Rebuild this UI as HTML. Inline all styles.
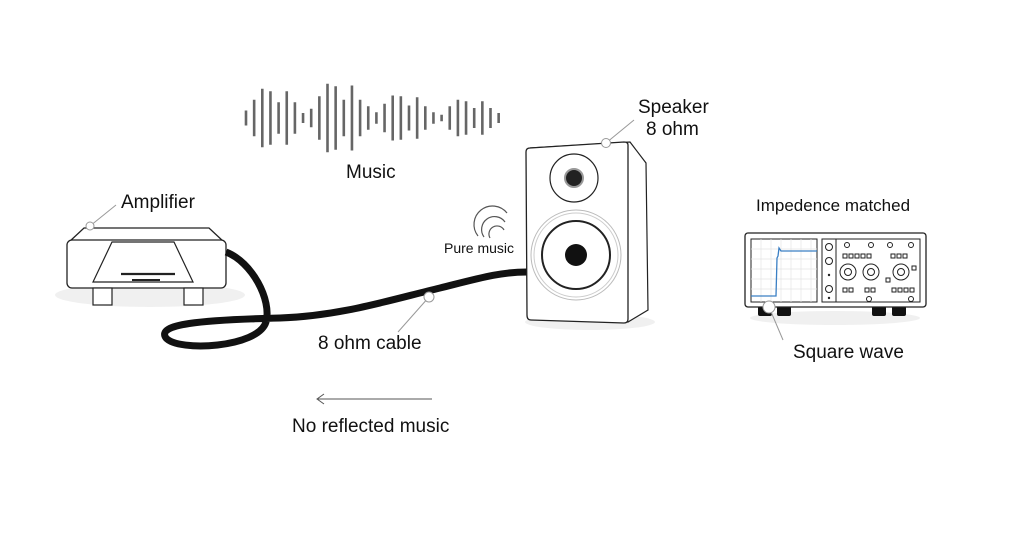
<!DOCTYPE html>
<html><head><meta charset="utf-8"><style>
html,body{margin:0;padding:0;background:#fff;}
svg{display:block}
text{font-family:"Liberation Sans",sans-serif;fill:#111}
</style></head><body>
<svg width="1024" height="546" viewBox="0 0 1024 546" xmlns="http://www.w3.org/2000/svg">
<path fill="none" stroke="#666" stroke-width="2.6" d="M246,110.5V125.5 M254.15,99.7V136.3 M262.3,88.8V147.2 M270.45,91.3V144.7 M278.6,102.2V133.8 M286.75,91.3V144.7 M294.9,102.2V133.8 M303.05,113V123 M311.2,108.8V127.2 M319.35,96.3V139.7 M327.5,83.8V152.2 M335.65,86.3V149.7 M343.8,99.7V136.3 M351.95,85.5V150.5 M360.1,99.7V136.3 M368.25,106.3V129.7 M376.4,112.2V123.8 M384.55,103.8V132.2 M392.7,95.5V140.5 M400.85,96.3V139.7 M409,105.5V130.5 M417.15,97.2V138.8 M425.3,106.3V129.7 M433.45,112.2V123.8 M441.6,114.7V121.3 M449.75,106.3V129.7 M457.9,99.7V136.3 M466.05,101.3V134.7 M474.2,108V128 M482.35,101.3V134.7 M490.5,108V128 M498.65,113V123"/>
<text x="346" y="178" font-size="19">Music</text>

<ellipse cx="150" cy="295" rx="95" ry="12" fill="#000" fill-opacity="0.06"/>
<line x1="90" y1="226" x2="116" y2="205" stroke="#999" stroke-width="1"/>
<text x="121" y="208" font-size="19">Amplifier</text>
<path d="M69,242 L84,228 L209,228 L224,242" fill="#fff" stroke="#222" stroke-width="1.3"/>
<rect x="67" y="240" width="159" height="48" rx="5" fill="#fff" stroke="#222" stroke-width="1.3"/>
<rect x="93" y="288" width="19" height="17" fill="#fff" stroke="#222" stroke-width="1.2"/>
<rect x="184" y="288" width="19" height="17" fill="#fff" stroke="#222" stroke-width="1.2"/>
<path d="M112,242 L174,242 L193,282 L93,282 Z" fill="#fff" stroke="#222" stroke-width="1.2"/>
<line x1="121" y1="274" x2="175" y2="274" stroke="#222" stroke-width="2.2"/>
<line x1="132" y1="280" x2="160" y2="280" stroke="#222" stroke-width="2"/>
<circle cx="90" cy="226" r="4" fill="#fff" stroke="#999"/>

<path d="M226,252 C252,262 272,300 266,322 C258,348 178,352 166,338 C156,324 200,320 280,318 C340,316 390,300 440,288 C480,278 500,272 527,272" fill="none" stroke="#111" stroke-width="7"/>
<line x1="429" y1="297" x2="398" y2="332" stroke="#999" stroke-width="1"/>
<circle cx="429" cy="297" r="5" fill="#fff" stroke="#999"/>
<text x="318" y="349" font-size="19">8 ohm cable</text>

<g fill="none" stroke="#555" stroke-width="1.2">
<path d="M478,236 A18,18 0 0 1 507,213"/>
<path d="M484,237 A12,12 0 0 1 505,222"/>
<path d="M490,238 A7,7 0 0 1 504,230"/>
</g>
<text x="444" y="253" font-size="14">Pure music</text>

<ellipse cx="590" cy="322" rx="65" ry="8" fill="#000" fill-opacity="0.06"/>
<path d="M530,148 L630,142 L646,163 L648,310 L628,322 Z" fill="#fff" stroke="#222" stroke-width="1.2"/>
<path d="M530,148 Q526,148 526,152 L527,315 Q527,320 531,320 L624,323 Q628,323 628,319 L628,145 Q628,142 624,142 Z" fill="#fff" stroke="#222" stroke-width="1.3"/>
<circle cx="574" cy="178" r="24" fill="#fff" stroke="#222" stroke-width="1.2"/>
<circle cx="574" cy="178" r="9" fill="#222" stroke="#999" stroke-width="2"/>
<circle cx="576" cy="255" r="45" fill="#fff" stroke="#bbb" stroke-width="1"/>
<circle cx="576" cy="255" r="42" fill="#fff" stroke="#ccc" stroke-width="1"/>
<circle cx="576" cy="255" r="34" fill="#fff" stroke="#222" stroke-width="2"/>
<circle cx="576" cy="255" r="11" fill="#111"/>
<line x1="606" y1="143" x2="634" y2="120" stroke="#999" stroke-width="1"/>
<circle cx="606" cy="143" r="4.5" fill="#fff" stroke="#999"/>
<text x="638" y="113" font-size="19">Speaker</text>
<text x="646" y="135" font-size="19">8 ohm</text>

<text x="756" y="211" font-size="17">Impedence matched</text>
<ellipse cx="835" cy="318" rx="85" ry="7" fill="#000" fill-opacity="0.06"/>
<rect x="758" y="306" width="14" height="10" rx="2" fill="#111"/>
<rect x="777" y="306" width="14" height="10" rx="2" fill="#111"/>
<rect x="872" y="306" width="14" height="10" rx="2" fill="#111"/>
<rect x="892" y="306" width="14" height="10" rx="2" fill="#111"/>
<rect x="745" y="233" width="181" height="74" rx="3" fill="#fff" stroke="#222" stroke-width="1.3"/>
<rect x="751" y="239" width="66" height="63" fill="#fff" stroke="#222" stroke-width="1"/>
<g stroke="#e4e4e4" stroke-width="0.7">
<line x1="751" y1="249" x2="817" y2="249"/><line x1="751" y1="259" x2="817" y2="259"/><line x1="751" y1="269" x2="817" y2="269"/><line x1="751" y1="279" x2="817" y2="279"/><line x1="751" y1="289" x2="817" y2="289"/>
<line x1="761" y1="239" x2="761" y2="302"/><line x1="771" y1="239" x2="771" y2="302"/><line x1="781" y1="239" x2="781" y2="302"/><line x1="791" y1="239" x2="791" y2="302"/><line x1="801" y1="239" x2="801" y2="302"/><line x1="811" y1="239" x2="811" y2="302"/>
</g>
<path d="M751,296 L776,296 L777,258 L778,256 L779,248 L781,251 L817,251" fill="none" stroke="#3a7fc4" stroke-width="1.3"/>
<rect x="822" y="239" width="98" height="63" fill="#fff" stroke="#222" stroke-width="1"/>
<line x1="836" y1="239" x2="836" y2="302" stroke="#222" stroke-width="1"/>
<g fill="none" stroke="#222" stroke-width="1">
<circle cx="829" cy="247" r="3.5"/><circle cx="829" cy="261" r="3.5"/><circle cx="829" cy="289" r="3.5"/>
<circle cx="847" cy="245" r="2.5"/><circle cx="871" cy="245" r="2.5"/><circle cx="890" cy="245" r="2.5"/><circle cx="911" cy="245" r="2.5"/>
<circle cx="848" cy="272" r="8"/><circle cx="848" cy="272" r="3.5"/>
<circle cx="871" cy="272" r="8"/><circle cx="871" cy="272" r="3.5"/>
<circle cx="901" cy="272" r="8"/><circle cx="901" cy="272" r="3.5"/>
<circle cx="869" cy="299" r="2.5"/><circle cx="911" cy="299" r="2.5"/>
<rect x="843" y="254" width="4" height="4"/><rect x="849" y="254" width="4" height="4"/><rect x="855" y="254" width="4" height="4"/><rect x="861" y="254" width="4" height="4"/><rect x="867" y="254" width="4" height="4"/>
<rect x="891" y="254" width="4" height="4"/><rect x="897" y="254" width="4" height="4"/><rect x="903" y="254" width="4" height="4"/>
<rect x="912" y="266" width="4" height="4"/><rect x="886" y="278" width="4" height="4"/>
<rect x="843" y="288" width="4" height="4"/><rect x="849" y="288" width="4" height="4"/>
<rect x="865" y="288" width="4" height="4"/><rect x="871" y="288" width="4" height="4"/>
<rect x="892" y="288" width="4" height="4"/><rect x="898" y="288" width="4" height="4"/><rect x="904" y="288" width="4" height="4"/><rect x="910" y="288" width="4" height="4"/>
</g>
<circle cx="829" cy="275" r="1.2" fill="#222"/><circle cx="829" cy="298" r="1.2" fill="#222"/>
<line x1="769" y1="307" x2="783" y2="340" stroke="#999" stroke-width="1"/>
<circle cx="769" cy="307" r="6" fill="#fff" stroke="#999"/>
<text x="793" y="358" font-size="19">Square wave</text>

<line x1="318" y1="399" x2="432" y2="399" stroke="#555" stroke-width="1"/>
<path d="M324,394 L317,399 L324,404" fill="none" stroke="#555" stroke-width="1"/>
<text x="292" y="432" font-size="19">No reflected music</text>
</svg>
</body></html>
